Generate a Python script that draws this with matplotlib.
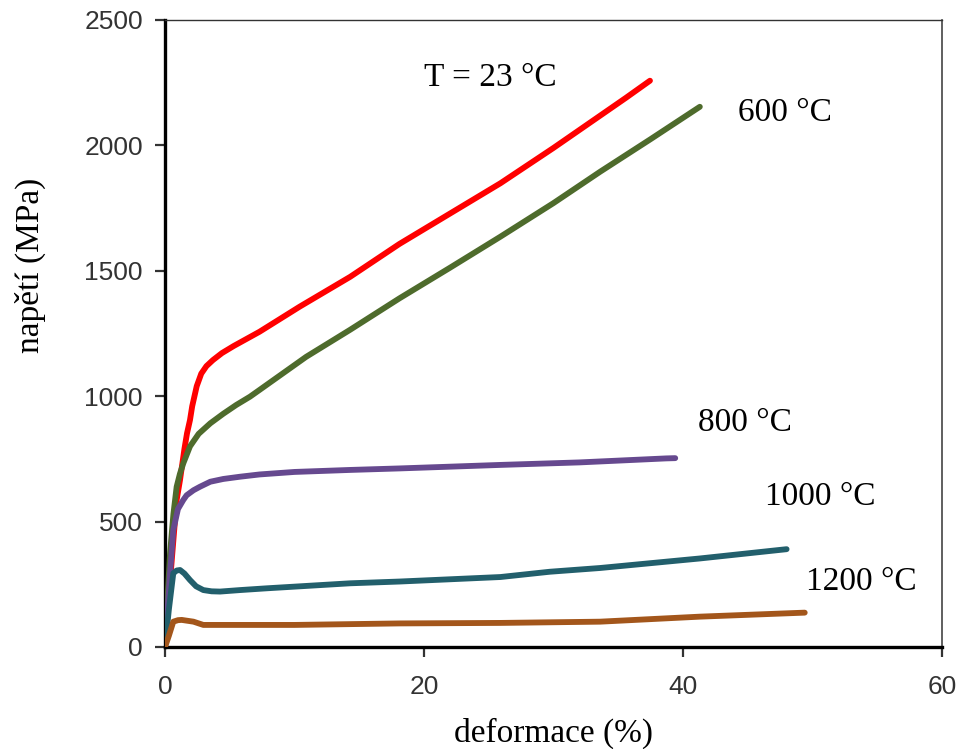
import matplotlib
matplotlib.use("Agg")
import matplotlib.pyplot as plt

# Data (strain %, stress MPa)
x_23 = [0, 0.45, 0.9, 1.16, 1.5, 1.7, 1.93, 2.1, 2.45, 2.8, 3.2, 3.7, 4.4, 5.3, 7.3, 10.4, 14.3, 18.1, 25.9, 30.0, 35.6, 37.45]
y_23 = [0, 300, 586, 666, 790, 852, 905, 960, 1040, 1090, 1120, 1144, 1172, 1200, 1257, 1357, 1476, 1607, 1849, 1990, 2190, 2258]

x_600 = [0, 0.2, 0.39, 0.65, 0.9, 1.15, 1.41, 1.93, 2.6, 3.5, 4.5, 5.5, 6.56, 7.3, 8.8, 10.9, 14.3, 18.1, 22.0, 25.9, 30.0, 33.6, 37.5, 41.3]
y_600 = [0, 200, 374, 530, 639, 690, 732, 800, 850, 892, 930, 965, 998, 1025, 1080, 1157, 1265, 1390, 1512, 1636, 1770, 1895, 2025, 2154]

x_800 = [0, 0.2, 0.39, 0.64, 1.0, 1.41, 1.67, 2.2, 2.7, 3.5, 4.5, 5.8, 7.3, 10.0, 14.3, 18.1, 25.9, 32.0, 38.7, 39.4]
y_800 = [0, 150, 294, 466, 550, 586, 605, 625, 639, 659, 670, 679, 688, 698, 706, 712, 726, 736, 752, 753]

x_1000 = [0, 0.3, 0.64, 0.9, 1.16, 1.5, 1.93, 2.4, 2.96, 3.6, 4.25, 5.8, 7.85, 14.3, 18.1, 25.9, 29.7, 33.6, 41.3, 48.0]
y_1000 = [0, 150, 294, 305, 307, 293, 267, 242, 227, 222, 221, 227, 234, 254, 261, 279, 300, 315, 353, 390]

x_1200 = [0, 0.3, 0.64, 1.0, 1.29, 2.2, 2.96, 5.8, 10.0, 18.1, 25.9, 33.6, 41.3, 49.4]
y_1200 = [0, 45, 101, 107, 108, 101, 88, 88, 88, 94, 96, 101, 121, 137]

series = [
    (x_23, y_23, "#ff0000"),
    (x_600, y_600, "#4e6b2c"),
    (x_800, y_800, "#66498f"),
    (x_1000, y_1000, "#225f6c"),
    (x_1200, y_1200, "#a3561b"),
]

labels = ["T = 23 °C", "600 °C", "800 °C", "1000 °C", "1200 °C"]
label_x = [25.1, 47.9, 44.8, 50.6, 53.8]
label_y = [2269, 2129, 893, 598, 259]

x_ticks = [0, 20, 40, 60]
y_ticks = [0, 500, 1000, 1500, 2000, 2500]

fig = plt.figure(figsize=(9.6, 7.49), dpi=100)
ax = fig.add_axes([165/960, 1 - 647/749, (942-165)/960, (647-20)/749])

for xs, ys, c in series:
    ax.plot(xs, ys, color=c, lw=4.2, solid_capstyle="round", solid_joinstyle="round", zorder=3)

for t, lx, ly in zip(labels, label_x, label_y):
    ax.text(lx, ly, t, fontsize=24, family="Liberation Serif", color="black",
            ha="center", va="center", zorder=4)

ax.set_xlim(0, 60)
ax.set_ylim(0, 2500)
ax.set_xticks(x_ticks)
ax.set_yticks(y_ticks)
ax.tick_params(direction="out", length=7, width=1.6, labelsize=19, colors="#333333",
               pad=9)
ax.tick_params(axis="x", pad=13)
for lab in ax.get_xticklabels() + ax.get_yticklabels():
    lab.set_family("Liberation Sans")

ax.spines["left"].set_linewidth(2.4)
ax.spines["bottom"].set_linewidth(2.4)
ax.spines["left"].set_color("black")
ax.spines["bottom"].set_color("black")
ax.spines["top"].set_linewidth(1.0)
ax.spines["right"].set_linewidth(1.2)
ax.spines["top"].set_color("#333333")
ax.spines["right"].set_color("#444444")

fig.text(553/960, 1 - 733/749, "deformace (%)", fontsize=24, family="Liberation Serif",
         ha="center", va="center", color="black")
fig.text(30/960, 1 - 265/749, "napětí (MPa)", fontsize=24, family="Liberation Serif",
         ha="center", va="center", rotation=90, color="black")

fig.savefig("out.png", dpi=100)
